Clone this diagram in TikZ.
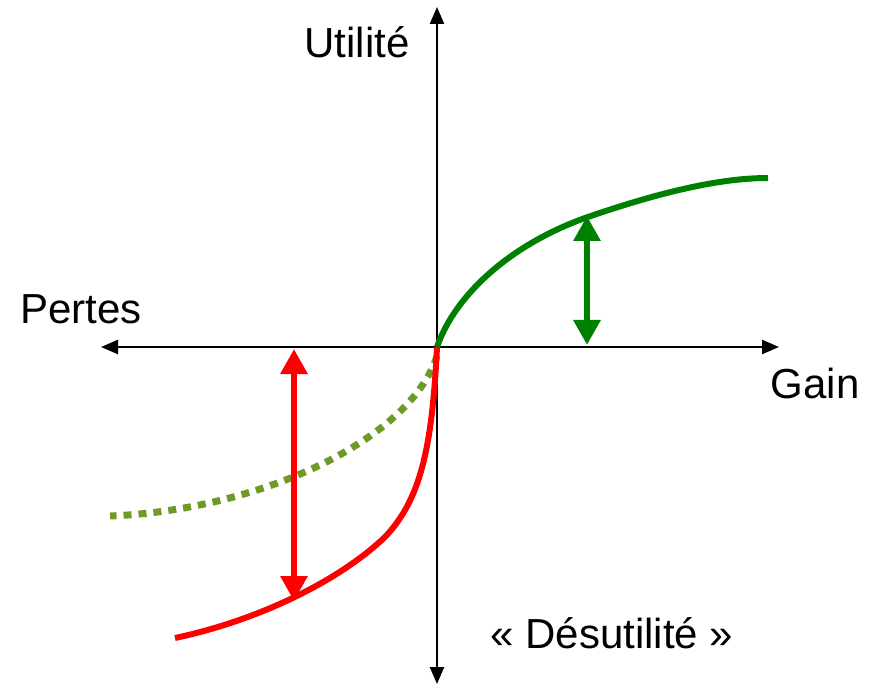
\documentclass[tikz,border=0pt]{standalone}
\usepackage{fontspec}
\setmainfont{Liberation Sans}
\usetikzlibrary{arrows.meta}
\definecolor{dkgreen}{RGB}{0,128,0}
\definecolor{olivegr}{RGB}{110,155,40}
\tikzset{
  axis/.style={line width=2.4pt,-{Triangle[width=14pt,length=17pt]}},
  curve/.style={line width=6pt},
  dblarrow/.style={line width=6pt,{Triangle[width=26pt,length=25pt]}-{Triangle[width=26pt,length=25pt]}},
  lbl/.style={font=\fontsize{42}{48}\selectfont, inner sep=0pt}
}
\begin{document}
\begin{tikzpicture}[x=1pt,y=-1pt]
\useasboundingbox (0,0) rectangle (875,684);
\coordinate (O) at (437,347);
\coordinate (xl) at (101,347);
\coordinate (xr) at (779,347);
\coordinate (yt) at (437,7);
\coordinate (yb) at (437,684);
\draw[axis] (O) -- (xl);
\draw[axis] (O) -- (xr);
\draw[axis] (O) -- (yt);
\draw[axis] (O) -- (yb);
% dotted olive curve
\coordinate (d0) at (437,356);
\coordinate (d1) at (110,516);
\draw[olivegr, line width=7pt, dash pattern=on 8pt off 7pt] (d0) .. controls (410,440) and (260,510) .. (d1);
% green curve
\coordinate (g1) at (585,218);
\coordinate (g2) at (768,178);
\draw[dkgreen, curve] (O) .. controls (455,295) and (510,245) .. (g1) .. controls (660,192) and (720,178) .. (g2);
% red curve
\coordinate (r1) at (385,537);
\coordinate (r2) at (175,638);
\draw[red, curve] (O) .. controls (432,450) and (420,500) .. (r1) .. controls (340,580) and (260,620) .. (r2);
% arrows
\coordinate (ga) at (587,345);
\coordinate (gb) at (587,216);
\draw[dkgreen, dblarrow] (ga) -- (gb);
\coordinate (ra) at (294,349);
\coordinate (rb) at (294,601);
\draw[red, dblarrow] (ra) -- (rb);
% labels
\node[lbl] (util) at (357,42) {Utilité};
\node[lbl] (pertes) at (81,309) {Pertes};
\node[lbl] (gain) at (815,383) {Gain};
\node[lbl] (desu) at (612,633) {« Désutilité »};
\end{tikzpicture}
\end{document}
